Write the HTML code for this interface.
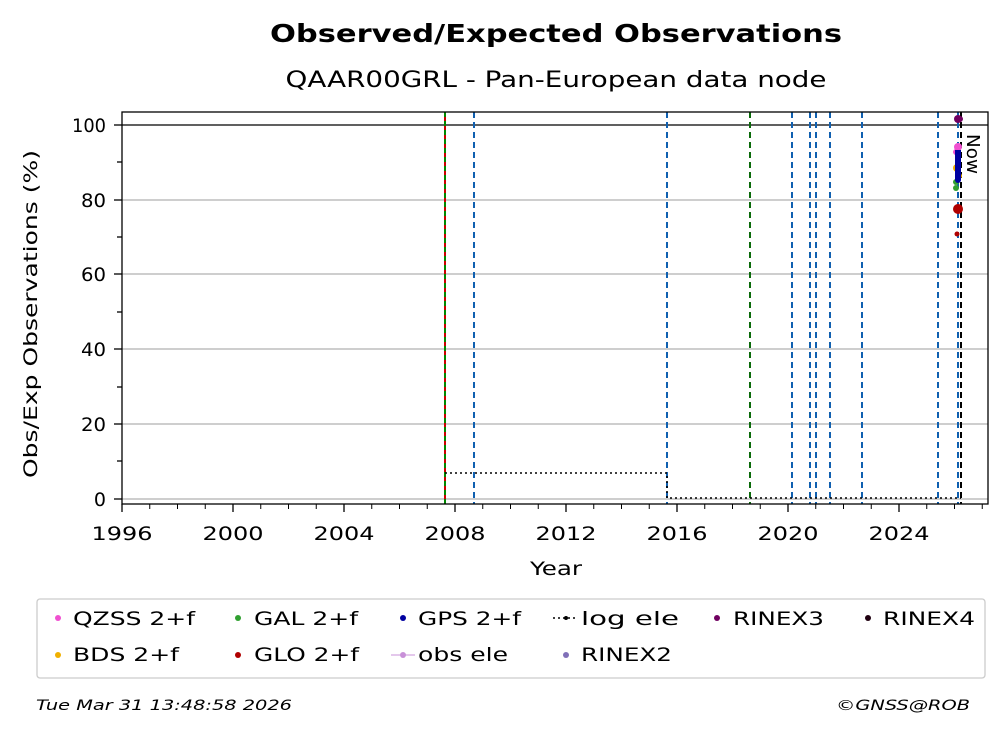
<!DOCTYPE html>
<html><head><meta charset="utf-8"><style>
body{margin:0;background:#fff;width:1008px;height:734px;overflow:hidden;font-family:"DejaVu Sans","Liberation Sans",sans-serif}
</style></head><body>
<svg width="1008" height="734" xmlns="http://www.w3.org/2000/svg" font-family="DejaVu Sans, Liberation Sans, sans-serif">
<text x="556" y="42" text-anchor="middle" font-size="25" font-weight="bold" textLength="572" lengthAdjust="spacingAndGlyphs">Observed/Expected Observations</text>
<text x="556" y="87" text-anchor="middle" font-size="22" textLength="541" lengthAdjust="spacingAndGlyphs">QAAR00GRL - Pan-European data node</text>
<g stroke="#b0b0b0" stroke-width="1.3">
<line x1="122" x2="988" y1="499" y2="499"/><line x1="122" x2="988" y1="424" y2="424"/>
<line x1="122" x2="988" y1="349" y2="349"/><line x1="122" x2="988" y1="274" y2="274"/>
<line x1="122" x2="988" y1="200" y2="200"/>
</g>
<line x1="122" x2="988" y1="125" y2="125" stroke="#000" stroke-width="1.3"/>
<line x1="445" x2="445" y1="112" y2="504" stroke="#c00" stroke-width="2"/>
<line x1="445" x2="445" y1="112" y2="504" stroke="#080" stroke-width="2" stroke-dasharray="5,4"/>
<g stroke="#1060b0" stroke-width="2" stroke-dasharray="6,4">
<line x1="474" x2="474" y1="112" y2="504"/><line x1="667" x2="667" y1="112" y2="504"/>
<line x1="792" x2="792" y1="112" y2="504"/><line x1="810" x2="810" y1="112" y2="504"/>
<line x1="816" x2="816" y1="112" y2="504"/><line x1="830" x2="830" y1="112" y2="504"/>
<line x1="862" x2="862" y1="112" y2="504"/><line x1="938" x2="938" y1="112" y2="504"/>
<line x1="958" x2="958" y1="112" y2="504"/>
</g>
<line x1="750" x2="750" y1="112" y2="504" stroke="#0a6a0a" stroke-width="2" stroke-dasharray="6,4"/>
<line x1="961" x2="961" y1="112" y2="504" stroke="#000" stroke-width="2" stroke-dasharray="6,4"/>
<text x="967" y="134" font-size="18" transform="rotate(90 967 134)" textLength="40" lengthAdjust="spacingAndGlyphs">Now</text>
<polyline points="445,473 667,473 667,498 961,498" fill="none" stroke="#000" stroke-width="1.6" stroke-dasharray="2,3"/>
<circle cx="958" cy="119" r="4" fill="#700060"/><circle cx="960" cy="119" r="3" fill="#700060"/>
<circle cx="958" cy="147" r="4" fill="#f050d0"/><circle cx="956" cy="152" r="3" fill="#f050d0"/>
<circle cx="957" cy="168" r="4" fill="#f0b000"/><circle cx="959" cy="176" r="3" fill="#f0b000"/>
<circle cx="956" cy="182" r="3" fill="#30a030"/><circle cx="956" cy="188" r="3" fill="#30a030"/>
<rect x="955" y="150" width="6" height="30" fill="#0000a0"/>
<circle cx="958" cy="180" r="3" fill="#0000a0"/>
<circle cx="958" cy="209" r="5" fill="#b00000"/><circle cx="957" cy="234" r="2.5" fill="#b00000"/>
<rect x="122" y="112" width="866" height="392" fill="none" stroke="#000" stroke-width="1.3"/>
<g stroke="#000" stroke-width="1.3">
<line x1="122" x2="122" y1="504" y2="512"/><line x1="233" x2="233" y1="504" y2="512"/>
<line x1="344" x2="344" y1="504" y2="512"/><line x1="455" x2="455" y1="504" y2="512"/>
<line x1="566" x2="566" y1="504" y2="512"/><line x1="677" x2="677" y1="504" y2="512"/>
<line x1="788" x2="788" y1="504" y2="512"/><line x1="899" x2="899" y1="504" y2="512"/>
<line x1="114" x2="122" y1="499" y2="499"/><line x1="114" x2="122" y1="424" y2="424"/>
<line x1="114" x2="122" y1="349" y2="349"/><line x1="114" x2="122" y1="274" y2="274"/>
<line x1="114" x2="122" y1="200" y2="200"/><line x1="114" x2="122" y1="125" y2="125"/>
<line x1="117" x2="122" y1="461" y2="461"/><line x1="117" x2="122" y1="387" y2="387"/>
<line x1="117" x2="122" y1="312" y2="312"/><line x1="117" x2="122" y1="237" y2="237"/>
<line x1="117" x2="122" y1="162" y2="162"/>
</g>
<path d="M149.75 504v5M177.5 504v5M205.25 504v5M260.75 504v5M288.5 504v5M316.25 504v5M371.75 504v5M399.5 504v5M427.25 504v5M482.75 504v5M510.5 504v5M538.25 504v5M593.75 504v5M621.5 504v5M649.25 504v5M704.75 504v5M732.5 504v5M760.25 504v5M815.75 504v5M843.5 504v5M871.25 504v5M926.75 504v5M954.5 504v5M982.25 504v5" stroke="#000" stroke-width="1"/>
<g font-size="19" text-anchor="middle">
<text x="122" y="540" textLength="61" lengthAdjust="spacingAndGlyphs">1996</text><text x="233" y="540" textLength="61" lengthAdjust="spacingAndGlyphs">2000</text><text x="344" y="540" textLength="61" lengthAdjust="spacingAndGlyphs">2004</text>
<text x="455" y="540" textLength="61" lengthAdjust="spacingAndGlyphs">2008</text><text x="566" y="540" textLength="61" lengthAdjust="spacingAndGlyphs">2012</text><text x="677" y="540" textLength="61" lengthAdjust="spacingAndGlyphs">2016</text>
<text x="788" y="540" textLength="61" lengthAdjust="spacingAndGlyphs">2020</text><text x="899" y="540" textLength="61" lengthAdjust="spacingAndGlyphs">2024</text>
<text x="556" y="575" textLength="52" lengthAdjust="spacingAndGlyphs">Year</text>
</g>
<g font-size="19" text-anchor="end">
<text x="106" y="506">0</text><text x="106" y="431" textLength="25" lengthAdjust="spacingAndGlyphs">20</text><text x="106" y="356" textLength="25" lengthAdjust="spacingAndGlyphs">40</text>
<text x="106" y="281" textLength="25" lengthAdjust="spacingAndGlyphs">60</text><text x="106" y="207" textLength="25" lengthAdjust="spacingAndGlyphs">80</text><text x="106" y="132" textLength="34" lengthAdjust="spacingAndGlyphs">100</text>
</g>
<text x="37" y="314" font-size="19" text-anchor="middle" transform="rotate(-90 37 314)" textLength="328" lengthAdjust="spacingAndGlyphs">Obs/Exp Observations (%)</text>
<rect x="37" y="599" width="948" height="79" rx="3" fill="#fff" stroke="#ccc" stroke-width="1.3"/>
<g font-size="19">
<circle cx="58" cy="618" r="3" fill="#f050d0"/><text x="73" y="625" textLength="122" lengthAdjust="spacingAndGlyphs">QZSS 2+f</text>
<circle cx="58" cy="655" r="3" fill="#f0b000"/><text x="73" y="661" textLength="106" lengthAdjust="spacingAndGlyphs">BDS 2+f</text>
<circle cx="238" cy="618" r="3" fill="#30a030"/><text x="254" y="625" textLength="104" lengthAdjust="spacingAndGlyphs">GAL 2+f</text>
<circle cx="238" cy="655" r="3" fill="#b00000"/><text x="254" y="661" textLength="105" lengthAdjust="spacingAndGlyphs">GLO 2+f</text>
<circle cx="403" cy="618" r="3" fill="#0000a0"/><text x="418" y="625" textLength="103" lengthAdjust="spacingAndGlyphs">GPS 2+f</text>
<line x1="391" x2="415" y1="655" y2="655" stroke="#c890d8" stroke-width="1"/><circle cx="403" cy="655" r="3" fill="#c890d8"/><text x="418" y="661" textLength="90" lengthAdjust="spacingAndGlyphs">obs ele</text>
<line x1="553" x2="577" y1="618" y2="618" stroke="#000" stroke-width="1.6" stroke-dasharray="2,3"/><circle cx="566" cy="618" r="2" fill="#000"/><text x="581" y="625" textLength="98" lengthAdjust="spacingAndGlyphs">log ele</text>
<circle cx="566" cy="655" r="3" fill="#8070b8"/><text x="581" y="661" textLength="91" lengthAdjust="spacingAndGlyphs">RINEX2</text>
<circle cx="717" cy="618" r="3" fill="#700060"/><text x="733" y="625" textLength="91" lengthAdjust="spacingAndGlyphs">RINEX3</text>
<circle cx="868" cy="618" r="3" fill="#200010"/><text x="883" y="625" textLength="92" lengthAdjust="spacingAndGlyphs">RINEX4</text>
</g>
<text x="36" y="710" font-size="14" font-style="italic" textLength="256" lengthAdjust="spacingAndGlyphs">Tue Mar 31 13:48:58 2026</text>
<text x="970" y="710" font-size="14" font-style="italic" text-anchor="end" textLength="134" lengthAdjust="spacingAndGlyphs">©GNSS@ROB</text>
</svg>
</body></html>
